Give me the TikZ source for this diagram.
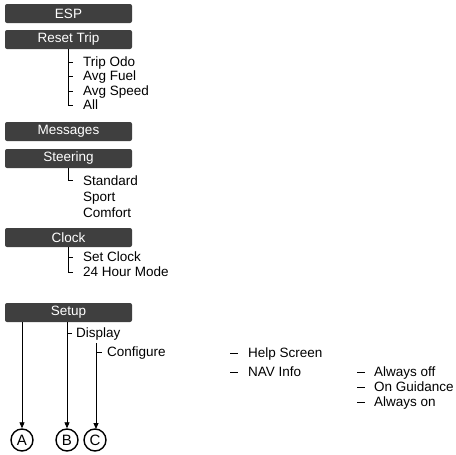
\documentclass[tikz,border=0pt]{standalone}
\usepackage{fontspec}
\setmainfont{Liberation Sans}
\usetikzlibrary{arrows.meta}
\definecolor{bargray}{HTML}{3F3F3F}
\begin{document}
\begin{tikzpicture}[x=1pt,y=-1pt,
  bar/.style={fill=bargray, rounded corners=2pt, minimum width=127pt, minimum height=19pt, inner sep=0pt, text=white, font=\fontsize{13.5}{15}\selectfont},
  item/.style={anchor=base west, yshift=-4.8pt, inner sep=0pt, font=\fontsize{13.5}{15}\selectfont},
  tree/.style={line width=0.8pt},
  arr/.style={line width=0.8pt, -{Triangle[width=5pt,length=6pt]}},
  letter/.style={circle, draw, line width=1.4pt, minimum size=22pt, inner sep=0pt, font=\fontsize{15}{17}\selectfont}]
\useasboundingbox (0,0) rectangle (456,455);

% bars
\node[bar] (esp) at (68.5,13.5) {ESP};
\node[bar] (reset) at (68.5,39.5) {Reset Trip};
\node[bar] (msg) at (68.5,131.5) {Messages};
\node[bar] (steer) at (68.5,158.5) {Steering};
\node[bar] (clock) at (68.5,237.5) {Clock};
\node[bar] (setup) at (68.5,312.5) {Setup};

% Reset Trip items
\node[item] (odo) at (83,62) {Trip Odo};
\node[item] (fuel) at (83,76) {Avg Fuel};
\node[item] (speed) at (83,91) {Avg Speed};
\node[item] (all) at (83,105) {All};
\coordinate (rt) at (68,105);
\draw[tree] (reset.south -| rt) -- (rt) -- (73,105);
\draw[tree] (68,62) -- (73,62);
\draw[tree] (68,76) -- (73,76);
\draw[tree] (68,91) -- (73,91);

% Steering items
\node[item] (std) at (83,181) {Standard};
\node[item] (sport) at (83,197) {Sport};
\node[item] (comf) at (83,213) {Comfort};
\coordinate (st) at (68,180);
\draw[tree] (steer.south -| st) -- (st) -- (73,180);

% Clock items
\node[item] (setclk) at (83,257) {Set Clock};
\node[item] (h24) at (83,272) {24 Hour Mode};
\coordinate (ck) at (68,272);
\draw[tree] (clock.south -| ck) -- (ck) -- (73,272);
\draw[tree] (68,257) -- (73,257);

% Setup
\node[letter] (A) at (22,440) {A};
\node[letter] (B) at (67,440) {B};
\node[letter] (C) at (95,440) {C};
\node[item] (disp) at (76,333) {Display};
\node[item] (conf) at (107,352) {Configure};
\draw[arr] (setup.south -| A) -- (A);
\draw[arr] (setup.south -| B) -- (B);
\draw[tree] (67,333) -- (72,333);
\coordinate (ctop) at (96,343);
\draw[arr] (ctop) -- (96,429);
\draw[tree] (96,352) -- (102,352);

% Configure sub-items
\node[item] (help) at (248,353) {Help Screen};
\node[item] (nav) at (248,372) {NAV Info};
\draw[tree] (230,353) -- (238,353);
\draw[tree] (230,372) -- (238,372);

\node[item] (aoff) at (374,372) {Always off};
\node[item] (guid) at (374,387) {On Guidance};
\node[item] (aon) at (374,402) {Always on};
\draw[tree] (357,372) -- (365,372);
\draw[tree] (357,387) -- (365,387);
\draw[tree] (357,402) -- (365,402);
\end{tikzpicture}
\end{document}
